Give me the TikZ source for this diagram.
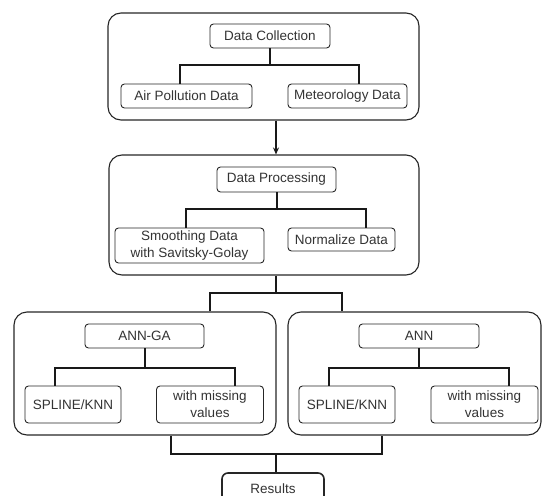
\documentclass[tikz,border=0pt]{standalone}
\usepackage{fontspec}
\setmainfont{Liberation Sans}
\usetikzlibrary{arrows.meta}
\begin{document}
\begin{tikzpicture}[x=1pt,y=-1pt,
  group/.style={draw=black!85, line width=1.1pt, rounded corners=13pt, inner sep=0pt},
  box/.style={draw=black!85, line width=0.9pt, rounded corners=3.5pt, inner sep=0pt, align=center,
     font=\fontsize{13.5}{17}\selectfont, text=black!80},
  conn/.style={draw=black!90, line width=2pt},
  arr/.style={draw=black!90, line width=1.3pt, -{Stealth[length=7pt,width=6pt]}}]
\useasboundingbox (0,0) rectangle (543,495);
% containers
\node[group, minimum width=311pt, minimum height=107pt] (g1) at (263.5,66.5) {};
\node[group, minimum width=310pt, minimum height=120pt] (g2) at (264,215) {};
\node[group, minimum width=262pt, minimum height=123pt] (g3) at (145,373.5) {};
\node[group, minimum width=253pt, minimum height=123pt] (g4) at (414.5,373.5) {};
% boxes
\node[box, minimum width=120pt, minimum height=24pt] (dc) at (270,36) {Data Collection};
\node[box, minimum width=131pt, minimum height=24pt] (apd) at (186.5,96) {Air Pollution Data};
\node[box, minimum width=119pt, minimum height=24pt] (md) at (347.5,96) {Meteorology Data};
\node[box, minimum width=119pt, minimum height=25pt] (dp) at (276.5,179.5) {Data Processing};
\node[box, minimum width=149pt, minimum height=35pt] (sm) at (189.5,245.5) {Smoothing Data\\with Savitsky-Golay};
\node[box, minimum width=107pt, minimum height=23pt] (nd) at (341.5,239.5) {Normalize Data};
\node[box, minimum width=119pt, minimum height=24pt] (annga) at (144.5,336) {ANN-GA};
\node[box, minimum width=96pt, minimum height=37pt] (sl) at (73,404.5) {SPLINE/KNN};
\node[box, minimum width=107pt, minimum height=37pt] (ml) at (210,404.5) {with missing\\values};
\node[box, minimum width=120pt, minimum height=24pt] (ann) at (419,336) {ANN};
\node[box, minimum width=96pt, minimum height=37pt] (sr) at (347,404.5) {SPLINE/KNN};
\node[box, minimum width=107pt, minimum height=37pt] (mr) at (484.5,404.5) {with missing\\values};
\node[box, line width=1.6pt, rounded corners=6pt, minimum width=102pt, minimum height=32pt] (res) at (273,489) {Results};
% junction coordinates
\coordinate (j1) at (270,65);
\coordinate (j1l) at (180,65);
\coordinate (j1r) at (359,65);
\coordinate (j2) at (276,209);
\coordinate (j2l) at (186,209);
\coordinate (j2r) at (366,209);
\coordinate (j3) at (276,293);
\coordinate (j3l) at (210,293);
\coordinate (j3r) at (342,293);
\coordinate (j4) at (144.5,367.5);
\coordinate (j4l) at (55,367.5);
\coordinate (j4r) at (235,367.5);
\coordinate (j5) at (419,367.5);
\coordinate (j5l) at (329,367.5);
\coordinate (j5r) at (509,367.5);
\coordinate (j6) at (276,454);
\coordinate (j6l) at (171,454);
\coordinate (j6r) at (382,454);
% connectors
\draw[conn] (dc.south) -- (j1);
\draw[conn] (apd.north -| j1l) -- (j1l) -- (j1r) -- (md.north -| j1r);
\draw[arr] (g1.south -| j2) -- (g2.north -| j2);
\draw[conn] (dp.south) -- (dp.south |- j2);
\draw[conn] (sm.north -| j2l) -- (j2l) -- (j2r) -- (nd.north -| j2r);
\draw[conn] (g2.south -| j3) -- (j3);
\draw[conn] (g3.north -| j3l) -- (j3l) -- (j3r) -- (g4.north -| j3r);
\draw[conn] (annga.south) -- (j4);
\draw[conn] (sl.north -| j4l) -- (j4l) -- (j4r) -- (ml.north -| j4r);
\draw[conn] (ann.south) -- (j5);
\draw[conn] (sr.north -| j5l) -- (j5l) -- (j5r) -- (mr.north -| j5r);
\draw[conn] (g3.south -| j6l) -- (j6l) -- (j6r) -- (g4.south -| j6r);
\draw[conn] (j6) -- (res.north -| j6);
\end{tikzpicture}
\end{document}
